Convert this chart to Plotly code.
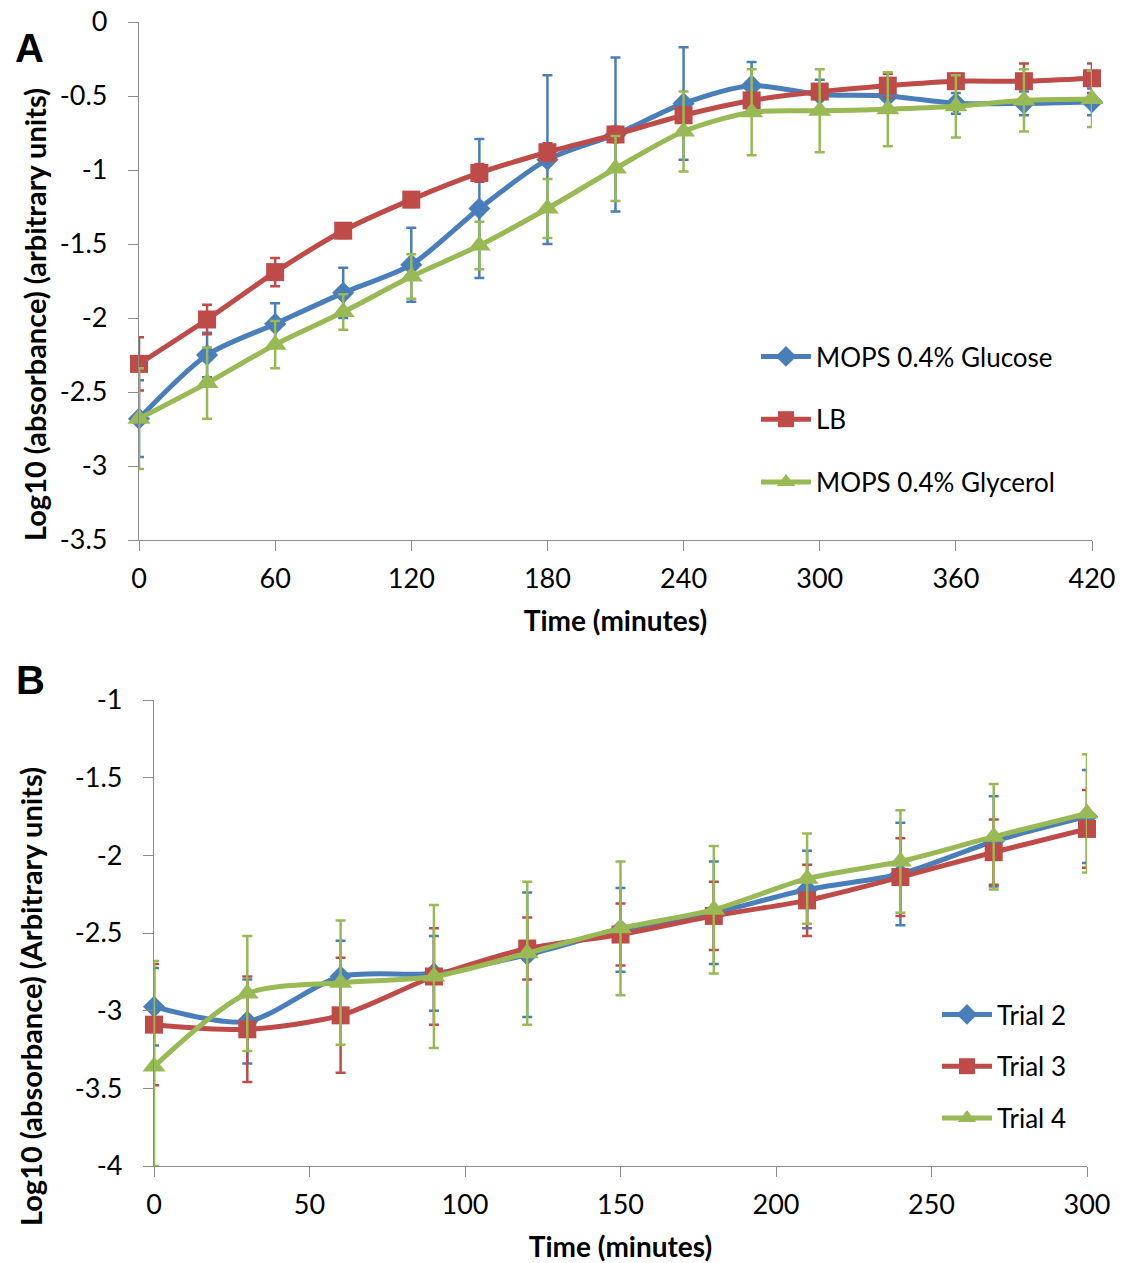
import plotly.graph_objects as go

# ---------------- Data: Panel A ----------------
times_a = [0, 30, 60, 90, 120, 150, 180, 210, 240, 270, 300, 330, 360, 390, 420]
glucose = [-2.68, -2.25, -2.04, -1.83, -1.64, -1.26, -0.93, -0.76, -0.55, -0.43, -0.49, -0.50, -0.55, -0.55, -0.54]
glucose_err = [0.26, 0.15, 0.14, 0.17, 0.25, 0.47, 0.57, 0.52, 0.38, 0.16, 0.10, 0.10, 0.07, 0.08, 0.09]
lb = [-2.31, -2.01, -1.69, -1.41, -1.20, -1.02, -0.88, -0.76, -0.63, -0.53, -0.47, -0.43, -0.40, -0.40, -0.38]
lb_err = [0.18, 0.10, 0.095, 0.05, 0.05, 0.06, 0.06, 0.05, 0.05, 0.05, 0.05, 0.08, 0.05, 0.12, 0.10]
glycerol = [-2.68, -2.44, -2.18, -1.96, -1.72, -1.51, -1.26, -0.99, -0.74, -0.61, -0.60, -0.59, -0.57, -0.53, -0.52]
glycerol_err = [0.34, 0.24, 0.16, 0.12, 0.15, 0.16, 0.20, 0.22, 0.27, 0.29, 0.28, 0.25, 0.21, 0.21, 0.19]
names_a = ["MOPS 0.4% Glucose", "LB", "MOPS 0.4% Glycerol"]

xticks_a = [0, 60, 120, 180, 240, 300, 360, 420]
yticks_a = [0, -0.5, -1, -1.5, -2, -2.5, -3, -3.5]
ytick_labels_a = ["0", "-0.5", "-1", "-1.5", "-2", "-2.5", "-3", "-3.5"]

# ---------------- Data: Panel B ----------------
times_b = [0, 30, 60, 90, 120, 150, 180, 210, 240, 270, 300]
trial2 = [-2.975, -3.07, -2.78, -2.76, -2.64, -2.48, -2.37, -2.22, -2.12, -1.91, -1.75]
trial2_err = [0.25, 0.27, 0.23, 0.24, 0.40, 0.27, 0.33, 0.25, 0.33, 0.29, 0.30]
trial3 = [-3.09, -3.12, -3.03, -2.78, -2.60, -2.51, -2.39, -2.29, -2.14, -1.98, -1.83]
trial3_err = [0.39, 0.34, 0.37, 0.31, 0.20, 0.20, 0.22, 0.23, 0.25, 0.21, 0.25]
trial4 = [-3.36, -2.89, -2.82, -2.78, -2.63, -2.47, -2.35, -2.15, -2.04, -1.88, -1.73]
trial4_err = [0.68, 0.37, 0.40, 0.46, 0.46, 0.43, 0.41, 0.29, 0.33, 0.34, 0.38]
trial4_err_minus = [0.64, 0.37, 0.40, 0.46, 0.46, 0.43, 0.41, 0.29, 0.33, 0.34, 0.38]
names_b = ["Trial 2", "Trial 3", "Trial 4"]

xticks_b = [0, 50, 100, 150, 200, 250, 300]
yticks_b = [-1, -1.5, -2, -2.5, -3, -3.5, -4]
ytick_labels_b = ["-1", "-1.5", "-2", "-2.5", "-3", "-3.5", "-4"]

title_x = "Time (minutes)"
title_y_a = "Log10 (absorbance) (arbitrary units)"
title_y_b = "Log10 (absorbance) (Arbitrary units)"

# ---------------- Styling ----------------
W, H = 1123, 1263
BLUE, RED, GREEN = "#4A7EBB", "#BE4B48", "#98B954"
colors = [BLUE, RED, GREEN]
symbols = ["diamond", "square", "triangle-up"]
sizes = [17, 18, 20]
FONT = "Lato"
AXIS_COLOR = "#8C8C8C"

def px(v):
    return v / W

def py(v):
    return 1 - v / H

fig = go.Figure()

series_a = [(glucose, glucose_err, glucose_err), (lb, lb_err, lb_err), (glycerol, glycerol_err, glycerol_err)]
for i, (vals, ep, em) in enumerate(series_a):
    fig.add_trace(go.Scatter(
        x=times_a, y=vals, name=names_a[i], mode="lines+markers",
        xaxis="x", yaxis="y", legend="legend", legendgroup="a%d" % i,
        line=dict(color=colors[i], width=5, shape="spline", smoothing=0.8),
        marker=dict(symbol=symbols[i], size=sizes[i], color=colors[i], line=dict(width=0)),
        error_y=dict(type="data", array=ep, arrayminus=em, symmetric=False,
                     color=colors[i], thickness=2.5, width=5),
        cliponaxis=False,
    ))

series_b = [(trial2, trial2_err, trial2_err), (trial3, trial3_err, trial3_err), (trial4, trial4_err, trial4_err_minus)]
for i, (vals, ep, em) in enumerate(series_b):
    fig.add_trace(go.Scatter(
        x=times_b, y=vals, name=names_b[i], mode="lines+markers",
        xaxis="x2", yaxis="y2", legend="legend2", legendgroup="b%d" % i,
        line=dict(color=colors[i], width=5, shape="spline", smoothing=0.8),
        marker=dict(symbol=symbols[i], size=sizes[i], color=colors[i], line=dict(width=0)),
        error_y=dict(type="data", array=ep, arrayminus=em, symmetric=False,
                     color=colors[i], thickness=2.5, width=5),
        cliponaxis=False,
    ))

tickfont = dict(family=FONT, size=27, color="black")
titlefont = dict(family=FONT, size=28, color="black", weight="bold")
ytitlefont = dict(family=FONT, size=29, color="black", weight="bold")

def ax(domain, rng, tickvals, ticktext, anchor, title, standoff, labelpad):
    d = dict(
        domain=domain, range=rng, anchor=anchor, tickvals=tickvals, ticktext=ticktext,
        showgrid=False, zeroline=False, showline=True, linecolor=AXIS_COLOR, linewidth=1.2,
        ticks="outside", ticklen=10, tickcolor=AXIS_COLOR, tickwidth=1.2,
        tickfont=tickfont, automargin=False, ticklabelstandoff=labelpad,
        ticklabeloverflow="allow",
    )
    if title:
        d["title"] = dict(text=title, font=titlefont, standoff=standoff)
    return d

fig.update_layout(
    width=W, height=H,
    margin=dict(l=0, r=0, t=0, b=0),
    paper_bgcolor="white", plot_bgcolor="white",
    font=dict(family=FONT, color="black"),
    xaxis=ax([px(139), px(1092)], [0, 420], xticks_a, [str(v) for v in xticks_a], "y",
             title_x, 18, 4),
    yaxis=ax([py(540), py(22)], [-3.5, 0], yticks_a, ytick_labels_a, "x", None, 0, 15),
    xaxis2=ax([px(154), px(1087)], [0, 300], xticks_b, [str(v) for v in xticks_b], "y2",
              title_x, 19, 4),
    yaxis2=ax([py(1166), py(700)], [-4, -1], yticks_b, ytick_labels_b, "x2", None, 0, 15),
    legend=dict(x=px(756), y=py(333), xanchor="left", yanchor="top", itemwidth=50,
                font=dict(family=FONT, size=26, color="black"),
                tracegroupgap=26, bgcolor="rgba(0,0,0,0)"),
    legend2=dict(x=px(937), y=py(991), xanchor="left", yanchor="top", itemwidth=50,
                 font=dict(family=FONT, size=26, color="black"),
                 tracegroupgap=15, bgcolor="rgba(0,0,0,0)"),
    annotations=[
        dict(text="<b>A</b>", x=px(29), y=py(48), xref="paper", yref="paper",
             xanchor="center", yanchor="middle", showarrow=False,
             font=dict(family="Liberation Sans", size=40, color="black")),
        dict(text="<b>B</b>", x=px(30), y=py(680), xref="paper", yref="paper",
             xanchor="center", yanchor="middle", showarrow=False,
             font=dict(family="Liberation Sans", size=40, color="black")),
        dict(text=title_y_a, x=px(35), y=py(315), xref="paper", yref="paper",
             xanchor="center", yanchor="middle", textangle=-90, showarrow=False,
             font=ytitlefont),
        dict(text=title_y_b, x=px(30), y=py(997), xref="paper", yref="paper",
             xanchor="center", yanchor="middle", textangle=-90, showarrow=False,
             font=ytitlefont),
    ],
)

# remove the browser's default 8px page margin so the figure fills the window
fig.write_html("out.html", config={"displayModeBar": False},
               post_script="document.body.style.margin='0';")
